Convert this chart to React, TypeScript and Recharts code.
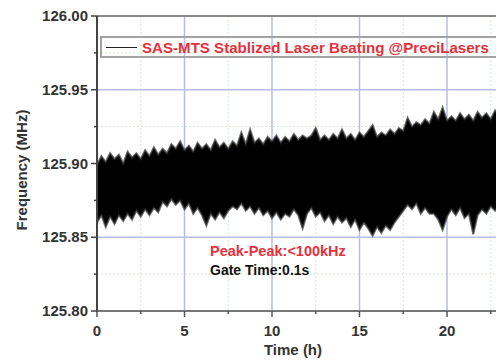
import { ComposedChart, Area, XAxis, YAxis, CartesianGrid, ReferenceLine } from 'recharts'

// frequency envelope, one sample every 0.25 h from 0 to 23 h
const TIME_STEP = 0.25
const UPPER = [
  125.899, 125.905, 125.901, 125.907, 125.903, 125.906, 125.900, 125.908, 125.904, 125.907, 125.903, 125.909,
  125.905, 125.911, 125.906, 125.910, 125.907, 125.913, 125.910, 125.915, 125.909, 125.912, 125.908, 125.914,
  125.910, 125.913, 125.909, 125.916, 125.911, 125.914, 125.910, 125.915, 125.912, 125.921, 125.913, 125.923,
  125.914, 125.917, 125.913, 125.918, 125.915, 125.919, 125.914, 125.918, 125.915, 125.920, 125.916, 125.919,
  125.917, 125.919, 125.924, 125.916, 125.919, 125.916, 125.920, 125.917, 125.923, 125.917, 125.920, 125.916,
  125.921, 125.918, 125.922, 125.926, 125.918, 125.921, 125.919, 125.923, 125.920, 125.924, 125.922, 125.931,
  125.925, 125.928, 125.926, 125.930, 125.927, 125.935, 125.930, 125.938, 125.929, 125.932, 125.929, 125.934,
  125.930, 125.933, 125.929, 125.935, 125.931, 125.934, 125.930, 125.936, 125.932,
]
const LOWER = [
  125.860, 125.865, 125.857, 125.864, 125.859, 125.865, 125.861, 125.866, 125.862, 125.868, 125.864, 125.869,
  125.865, 125.870, 125.867, 125.874, 125.871, 125.876, 125.872, 125.875, 125.869, 125.873, 125.866, 125.870,
  125.865, 125.858, 125.866, 125.862, 125.867, 125.863, 125.868, 125.871, 125.869, 125.873, 125.868, 125.871,
  125.866, 125.870, 125.865, 125.868, 125.863, 125.867, 125.862, 125.866, 125.864, 125.869, 125.865, 125.856,
  125.866, 125.870, 125.864, 125.867, 125.861, 125.865, 125.859, 125.864, 125.860, 125.863, 125.857, 125.862,
  125.855, 125.860, 125.856, 125.851, 125.857, 125.853, 125.858, 125.855, 125.860, 125.864, 125.868, 125.872,
  125.869, 125.873, 125.866, 125.870, 125.866, 125.866, 125.862, 125.855, 125.864, 125.869, 125.865, 125.870,
  125.863, 125.866, 125.852, 125.865, 125.869, 125.866, 125.871, 125.868, 125.872,
]

const Y_MAJOR = [125.8, 125.85, 125.9, 125.95, 126.0]
const Y_MINOR = [125.825, 125.875, 125.925, 125.975]
const X_MAJOR = [0, 5, 10, 15, 20]
const X_MINOR = [2.5, 7.5, 12.5, 17.5, 22.5]

const LEGEND_TEXT = 'SAS-MTS Stablized Laser Beating @PreciLasers'
const NOTE_PP = 'Peak-Peak:<100kHz'
const NOTE_GATE = 'Gate Time:0.1s'

const data = UPPER.map((hi, i) => ({ t: i * TIME_STEP, band: [LOWER[i], hi] }))

const FONT = '"Liberation Sans", Arial, sans-serif'
const RED = '#e5313d'

const isMajor = (list: number[], v: number) => list.some((m) => Math.abs(m - v) < 1e-6)

function YTick({ x, y, payload }: any) {
  const major = isMajor(Y_MAJOR, payload.value)
  return (
    <g>
      <line x1={x - (major ? 6 : 3)} x2={x} y1={y} y2={y} stroke="#444" strokeWidth={1.5} />
      {major && (
        <text x={x - 9} y={y} dy={5} textAnchor="end" fontFamily={FONT} fontWeight="bold" fontSize={15} fill="#333">
          {payload.value.toFixed(2)}
        </text>
      )}
    </g>
  )
}

function XTick({ x, y, payload }: any) {
  const major = isMajor(X_MAJOR, payload.value)
  return (
    <g>
      <line x1={x} x2={x} y1={y} y2={y + (major ? 6 : 3)} stroke="#555" strokeWidth={1.5} />
      {major && (
        <text x={x} y={y} dy={25} textAnchor="middle" fontFamily={FONT} fontWeight="bold" fontSize={15} fill="#333">
          {payload.value}
        </text>
      )}
    </g>
  )
}

export default function App() {
  return (
    <div style={{ position: 'absolute', left: 0, top: 0, width: 496, height: 360, overflow: 'hidden', background: '#fff' }}>
      <ComposedChart width={540} height={360} data={data} margin={{ top: 16, right: 5.5, left: 0, bottom: 0 }}>
        {/* minor grid, dotted green */}
        <CartesianGrid stroke="#d3e8cc" strokeDasharray="2 2" horizontalValues={Y_MINOR} verticalValues={X_MINOR} />
        {/* major grid, blue */}
        <CartesianGrid
          stroke="#b7bde6"
          strokeWidth={1.5}
          horizontalValues={[125.85, 125.9, 125.95]}
          verticalValues={[5, 10, 15, 20]}
        />
        <XAxis
          dataKey="t"
          type="number"
          domain={[0, 25]}
          ticks={[...X_MAJOR, ...X_MINOR].sort((a, b) => a - b)}
          allowDataOverflow
          height={49}
          tickSize={0}
          tickMargin={0}
          tick={<XTick />}
          axisLine={{ stroke: '#777', strokeWidth: 2 }}
          tickLine={false}
        />
        <YAxis
          type="number"
          domain={[125.8, 126.0]}
          ticks={[...Y_MAJOR, ...Y_MINOR].sort((a, b) => a - b)}
          allowDataOverflow
          width={97}
          tickSize={0}
          tickMargin={0}
          tick={<YTick />}
          axisLine={{ stroke: '#444', strokeWidth: 2 }}
          tickLine={false}
        />
        <ReferenceLine y={126.0} stroke="#888" strokeWidth={2} />
        <Area
          dataKey="band"
          type="linear"
          stroke="#333"
          strokeOpacity={0.7}
          strokeWidth={2}
          fill="#000"
          fillOpacity={1}
          isAnimationActive={false}
        />
      </ComposedChart>

      <svg
        width={496}
        height={360}
        style={{ position: 'absolute', left: 0, top: 0, pointerEvents: 'none' }}
        fontFamily={FONT}
        fontWeight="bold"
      >
        <rect x={101} y={37} width={420} height={20} fill="none" stroke="#a3a3a3" strokeWidth={2} />
        <line x1={106} x2={137} y1={47.5} y2={47.5} stroke="#222" strokeWidth={1} />
        <text x={142} y={52.5} fontSize={15.1} fill={RED}>
          {LEGEND_TEXT}
        </text>
        <text x={210} y={256} fontSize={14.5} fill={RED}>
          {NOTE_PP}
        </text>
        <text x={210} y={275} fontSize={14} fill="#111">
          {NOTE_GATE}
        </text>
        <text x={293} y={355} fontSize={15} fill="#333" textAnchor="middle">
          Time (h)
        </text>
        <text x={27} y={170} fontSize={15} fill="#333" textAnchor="middle" transform="rotate(-90, 27, 170)">
          Frequency (MHz)
        </text>
      </svg>
    </div>
  )
}
